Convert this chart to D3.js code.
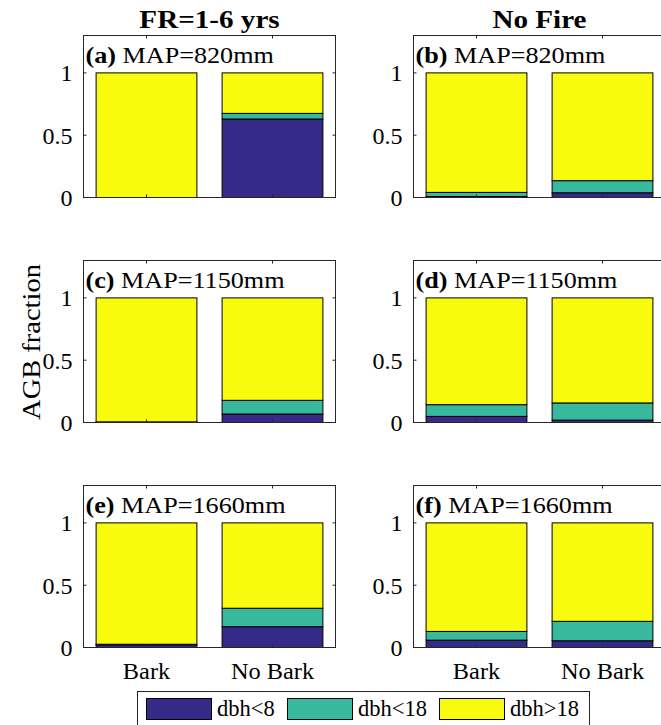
<!DOCTYPE html>
<html><head><meta charset="utf-8">
<script src="https://cdn.jsdelivr.net/npm/d3@7"></script>
<style>body{margin:0;background:#fff}svg{display:block}</style>
</head><body><svg id="c" width="661" height="725" font-family="'Liberation Serif', 'Times New Roman', Times, serif"></svg>
<script>
const categories = ["Bark", "No Bark"];
const seriesNames = ["dbh<8", "dbh<18", "dbh>18"];
const columnTitles = ["FR=1-6 yrs", "No Fire"];
const panelLetters = ["(a)", "(b)", "(c)", "(d)", "(e)", "(f)"];
const mapLabels = ["MAP=820mm", "MAP=820mm", "MAP=1150mm", "MAP=1150mm", "MAP=1660mm", "MAP=1660mm"];
// per panel: [Bark, No Bark]
const dbhLt8  = [[0, 0.63], [0.008, 0.038], [0.003, 0.068], [0.049, 0.019], [0.022, 0.167], [0.059, 0.054]];
const dbhLt18 = [[0, 0.045], [0.033, 0.097], [0.002, 0.11], [0.094, 0.138], [0.004, 0.148], [0.07, 0.156]];
const dbhGt18 = [[1, 0.325], [0.959, 0.865], [0.995, 0.822], [0.857, 0.843], [0.974, 0.685], [0.871, 0.79]];
const yTicks = [0, 0.5, 1];
const yLabel = "AGB fraction";

const FF = "'Liberation Serif', 'Times New Roman', Times, serif";
const colors = ["#352a87", "#38b99e", "#f9fb0e"];
const svg = d3.select("#c");
const colX = [83.5, 413.5], rowY = [35.5, 260.5, 485.5];
const W = 252, H = 162;
const axisCol = "#262626";

function txt(sel) { return sel.append("text").attr("font-family", FF).attr("fill", "#000"); }
// horizontally stretch a text about its anchor point (x, y) by factor s
function stretch(t, x0, y0, s) {
  t.attr("x", 0).attr("y", 0).attr("transform", `translate(${x0},${y0}) scale(${s},1)`);
}

const x = d3.scaleLinear().domain([0.5, 2.5]).range([0, W]);
const y = d3.scaleLinear().domain([0, 1.3]).range([H, 0]);
const bw = x(1.4) - x(0.6);

panelLetters.forEach((lab, i) => {
  const col = i % 2, row = Math.floor(i / 2);
  const g = svg.append("g").attr("transform", `translate(${colX[col]},${rowY[row]})`);
  const rows = categories.map((c, k) => ({cat: k + 1, "dbh<8": dbhLt8[i][k], "dbh<18": dbhLt18[i][k], "dbh>18": dbhGt18[i][k]}));
  const stacked = d3.stack().keys(seriesNames)(rows);
  stacked.forEach((s, si) => {
    g.selectAll(null).data(s).enter().append("rect")
      .attr("x", d => x(d.data.cat) - bw / 2)
      .attr("width", bw)
      .attr("y", d => y(d[1]))
      .attr("height", d => Math.max(0, y(d[0]) - y(d[1])))
      .attr("fill", colors[si]).attr("stroke", "#000").attr("stroke-width", 1);
  });
  g.append("rect").attr("width", W).attr("height", H).attr("fill", "none").attr("stroke", axisCol).attr("stroke-width", 1);
  const tl = 3;
  [1, 2].forEach(v => {
    g.append("line").attr("x1", x(v)).attr("x2", x(v)).attr("y1", H).attr("y2", H - tl).attr("stroke", axisCol);
    g.append("line").attr("x1", x(v)).attr("x2", x(v)).attr("y1", 0).attr("y2", tl).attr("stroke", axisCol);
  });
  yTicks.forEach(v => {
    g.append("line").attr("x1", 0).attr("x2", tl).attr("y1", y(v)).attr("y2", y(v)).attr("stroke", axisCol);
    g.append("line").attr("x1", W).attr("x2", W - tl).attr("y1", y(v)).attr("y2", y(v)).attr("stroke", axisCol);
    txt(g).attr("x", -11).attr("y", y(v)).attr("dy", "0.35em").attr("text-anchor", "end")
      .attr("font-size", 24).text(d3.format("~g")(v));
  });
  if (row === 2) {
    categories.forEach((c, k) => {
      const t = txt(g).attr("text-anchor", "middle").attr("font-size", 23).text(c);
      stretch(t, x(k + 1), H + 31, 1.06);
    });
  }
  const t = txt(g).attr("font-size", 24);
  t.append("tspan").attr("font-weight", "bold").text(lab);
  t.append("tspan").text(" " + mapLabels[i]);
  stretch(t, 2, 27, 1.09);
  if (row === 0) {
    const tt = txt(svg).attr("text-anchor", "middle").attr("font-size", 26).attr("font-weight", "bold").text(columnTitles[col]);
    stretch(tt, colX[col] + W / 2, 28, 1.12);
  }
});

txt(svg).attr("transform", "translate(40,342) rotate(-90) scale(1.14,1)").attr("text-anchor", "middle")
  .attr("font-size", 25).text(yLabel);

const lg = svg.append("g");
lg.append("rect").attr("x", 137.5).attr("y", 691.5).attr("width", 452).attr("height", 40)
  .attr("fill", "#fff").attr("stroke", axisCol).attr("stroke-width", 1);
const swX = [146, 287, 439];
seriesNames.forEach((s, i) => {
  lg.append("rect").attr("x", swX[i] + 0.5).attr("y", 698.5).attr("width", 65).attr("height", 21)
    .attr("fill", colors[i]).attr("stroke", "#000");
  txt(lg).attr("x", swX[i] + 71).attr("y", 716).attr("font-size", 22.5).text(s);
});
</script></body></html>
